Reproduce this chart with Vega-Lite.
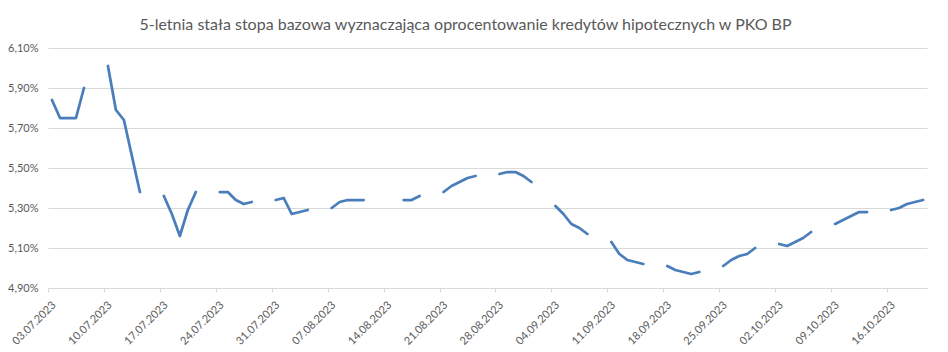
{
  "$schema": "https://vega.github.io/schema/vega-lite/v6.json",
  "autosize": {"type": "none"},
  "width": 879,
  "height": 240,
  "padding": {"left": 48, "top": 48, "right": 21, "bottom": 64},
  "background": "white",
  "title": {
    "text": "5-letnia stała stopa bazowa wyznaczająca oprocentowanie kredytów hipotecznych w PKO BP",
    "font": "Lato",
    "fontSize": 16,
    "fontWeight": "normal",
    "color": "#595959",
    "anchor": "middle",
    "dx": -22,
    "offset": 9
  },
  "data": {
    "values": [
      {"date": "2023-07-03", "rate": 5.84},
      {"date": "2023-07-04", "rate": 5.75},
      {"date": "2023-07-05", "rate": 5.75},
      {"date": "2023-07-06", "rate": 5.75},
      {"date": "2023-07-07", "rate": 5.90},
      {"date": "2023-07-08", "rate": null},
      {"date": "2023-07-09", "rate": null},
      {"date": "2023-07-10", "rate": 6.01},
      {"date": "2023-07-11", "rate": 5.79},
      {"date": "2023-07-12", "rate": 5.74},
      {"date": "2023-07-13", "rate": 5.56},
      {"date": "2023-07-14", "rate": 5.38},
      {"date": "2023-07-15", "rate": null},
      {"date": "2023-07-16", "rate": null},
      {"date": "2023-07-17", "rate": 5.36},
      {"date": "2023-07-18", "rate": 5.27},
      {"date": "2023-07-19", "rate": 5.16},
      {"date": "2023-07-20", "rate": 5.29},
      {"date": "2023-07-21", "rate": 5.38},
      {"date": "2023-07-22", "rate": null},
      {"date": "2023-07-23", "rate": null},
      {"date": "2023-07-24", "rate": 5.38},
      {"date": "2023-07-25", "rate": 5.38},
      {"date": "2023-07-26", "rate": 5.34},
      {"date": "2023-07-27", "rate": 5.32},
      {"date": "2023-07-28", "rate": 5.33},
      {"date": "2023-07-29", "rate": null},
      {"date": "2023-07-30", "rate": null},
      {"date": "2023-07-31", "rate": 5.34},
      {"date": "2023-08-01", "rate": 5.35},
      {"date": "2023-08-02", "rate": 5.27},
      {"date": "2023-08-03", "rate": 5.28},
      {"date": "2023-08-04", "rate": 5.29},
      {"date": "2023-08-05", "rate": null},
      {"date": "2023-08-06", "rate": null},
      {"date": "2023-08-07", "rate": 5.30},
      {"date": "2023-08-08", "rate": 5.33},
      {"date": "2023-08-09", "rate": 5.34},
      {"date": "2023-08-10", "rate": 5.34},
      {"date": "2023-08-11", "rate": 5.34},
      {"date": "2023-08-12", "rate": null},
      {"date": "2023-08-13", "rate": null},
      {"date": "2023-08-14", "rate": null},
      {"date": "2023-08-15", "rate": null},
      {"date": "2023-08-16", "rate": 5.34},
      {"date": "2023-08-17", "rate": 5.34},
      {"date": "2023-08-18", "rate": 5.36},
      {"date": "2023-08-19", "rate": null},
      {"date": "2023-08-20", "rate": null},
      {"date": "2023-08-21", "rate": 5.38},
      {"date": "2023-08-22", "rate": 5.41},
      {"date": "2023-08-23", "rate": 5.43},
      {"date": "2023-08-24", "rate": 5.45},
      {"date": "2023-08-25", "rate": 5.46},
      {"date": "2023-08-26", "rate": null},
      {"date": "2023-08-27", "rate": null},
      {"date": "2023-08-28", "rate": 5.47},
      {"date": "2023-08-29", "rate": 5.48},
      {"date": "2023-08-30", "rate": 5.48},
      {"date": "2023-08-31", "rate": 5.46},
      {"date": "2023-09-01", "rate": 5.43},
      {"date": "2023-09-02", "rate": null},
      {"date": "2023-09-03", "rate": null},
      {"date": "2023-09-04", "rate": 5.31},
      {"date": "2023-09-05", "rate": 5.27},
      {"date": "2023-09-06", "rate": 5.22},
      {"date": "2023-09-07", "rate": 5.20},
      {"date": "2023-09-08", "rate": 5.17},
      {"date": "2023-09-09", "rate": null},
      {"date": "2023-09-10", "rate": null},
      {"date": "2023-09-11", "rate": 5.13},
      {"date": "2023-09-12", "rate": 5.07},
      {"date": "2023-09-13", "rate": 5.04},
      {"date": "2023-09-14", "rate": 5.03},
      {"date": "2023-09-15", "rate": 5.02},
      {"date": "2023-09-16", "rate": null},
      {"date": "2023-09-17", "rate": null},
      {"date": "2023-09-18", "rate": 5.01},
      {"date": "2023-09-19", "rate": 4.99},
      {"date": "2023-09-20", "rate": 4.98},
      {"date": "2023-09-21", "rate": 4.97},
      {"date": "2023-09-22", "rate": 4.98},
      {"date": "2023-09-23", "rate": null},
      {"date": "2023-09-24", "rate": null},
      {"date": "2023-09-25", "rate": 5.01},
      {"date": "2023-09-26", "rate": 5.04},
      {"date": "2023-09-27", "rate": 5.06},
      {"date": "2023-09-28", "rate": 5.07},
      {"date": "2023-09-29", "rate": 5.10},
      {"date": "2023-09-30", "rate": null},
      {"date": "2023-10-01", "rate": null},
      {"date": "2023-10-02", "rate": 5.12},
      {"date": "2023-10-03", "rate": 5.11},
      {"date": "2023-10-04", "rate": 5.13},
      {"date": "2023-10-05", "rate": 5.15},
      {"date": "2023-10-06", "rate": 5.18},
      {"date": "2023-10-07", "rate": null},
      {"date": "2023-10-08", "rate": null},
      {"date": "2023-10-09", "rate": 5.22},
      {"date": "2023-10-10", "rate": 5.24},
      {"date": "2023-10-11", "rate": 5.26},
      {"date": "2023-10-12", "rate": 5.28},
      {"date": "2023-10-13", "rate": 5.28},
      {"date": "2023-10-14", "rate": null},
      {"date": "2023-10-15", "rate": null},
      {"date": "2023-10-16", "rate": 5.29},
      {"date": "2023-10-17", "rate": 5.30},
      {"date": "2023-10-18", "rate": 5.32},
      {"date": "2023-10-19", "rate": 5.33},
      {"date": "2023-10-20", "rate": 5.34}
    ]
  },
  "mark": {
    "type": "line",
    "color": "#4a7ebb",
    "strokeWidth": 2.75,
    "strokeCap": "round",
    "strokeJoin": "round",
    "invalid": "break-paths-show-domains"
  },
  "encoding": {
    "x": {
      "field": "date",
      "type": "temporal",
      "timeUnit": "utcyearmonthdate",
      "bandPosition": 0.5,
      "scale": {
        "domain": [
          {"year": 2023, "month": 7, "date": 3, "utc": true},
          {"year": 2023, "month": 10, "date": 21, "utc": true}
        ]
      },
      "axis": {
        "title": null,
        "values": [
          {"year": 2023, "month": 7, "date": 3, "utc": true},
          {"year": 2023, "month": 7, "date": 10, "utc": true},
          {"year": 2023, "month": 7, "date": 17, "utc": true},
          {"year": 2023, "month": 7, "date": 24, "utc": true},
          {"year": 2023, "month": 7, "date": 31, "utc": true},
          {"year": 2023, "month": 8, "date": 7, "utc": true},
          {"year": 2023, "month": 8, "date": 14, "utc": true},
          {"year": 2023, "month": 8, "date": 21, "utc": true},
          {"year": 2023, "month": 8, "date": 28, "utc": true},
          {"year": 2023, "month": 9, "date": 4, "utc": true},
          {"year": 2023, "month": 9, "date": 11, "utc": true},
          {"year": 2023, "month": 9, "date": 18, "utc": true},
          {"year": 2023, "month": 9, "date": 25, "utc": true},
          {"year": 2023, "month": 10, "date": 2, "utc": true},
          {"year": 2023, "month": 10, "date": 9, "utc": true},
          {"year": 2023, "month": 10, "date": 16, "utc": true}
        ],
        "format": "%d.%m.%Y",
        "labelAngle": -45,
        "labelAlign": "right",
        "labelBaseline": "middle",
        "labelPadding": 11,
        "labelOffset": 6,
        "labelFont": "Lato",
        "labelFontSize": 11,
        "labelColor": "#595959",
        "labelOverlap": false,
        "labelFlush": false,
        "grid": false,
        "domainColor": "#d9d9d9",
        "domainWidth": 1,
        "tickColor": "#d9d9d9",
        "tickSize": 4,
        "tickWidth": 1
      }
    },
    "y": {
      "field": "rate",
      "type": "quantitative",
      "scale": {"domain": [4.9, 6.1], "nice": false, "zero": false},
      "axis": {
        "title": null,
        "values": [4.9, 5.1, 5.3, 5.5, 5.7, 5.9, 6.1],
        "labelExpr": "replace(format(datum.value, '.2f'), '.', ',') + '%'",
        "labelFont": "Lato",
        "labelFontSize": 11,
        "labelColor": "#595959",
        "labelPadding": 10,
        "ticks": false,
        "domain": false,
        "grid": true,
        "gridColor": "#d9d9d9",
        "gridWidth": 1
      }
    }
  },
  "config": {
    "view": {"stroke": null}
  }
}
